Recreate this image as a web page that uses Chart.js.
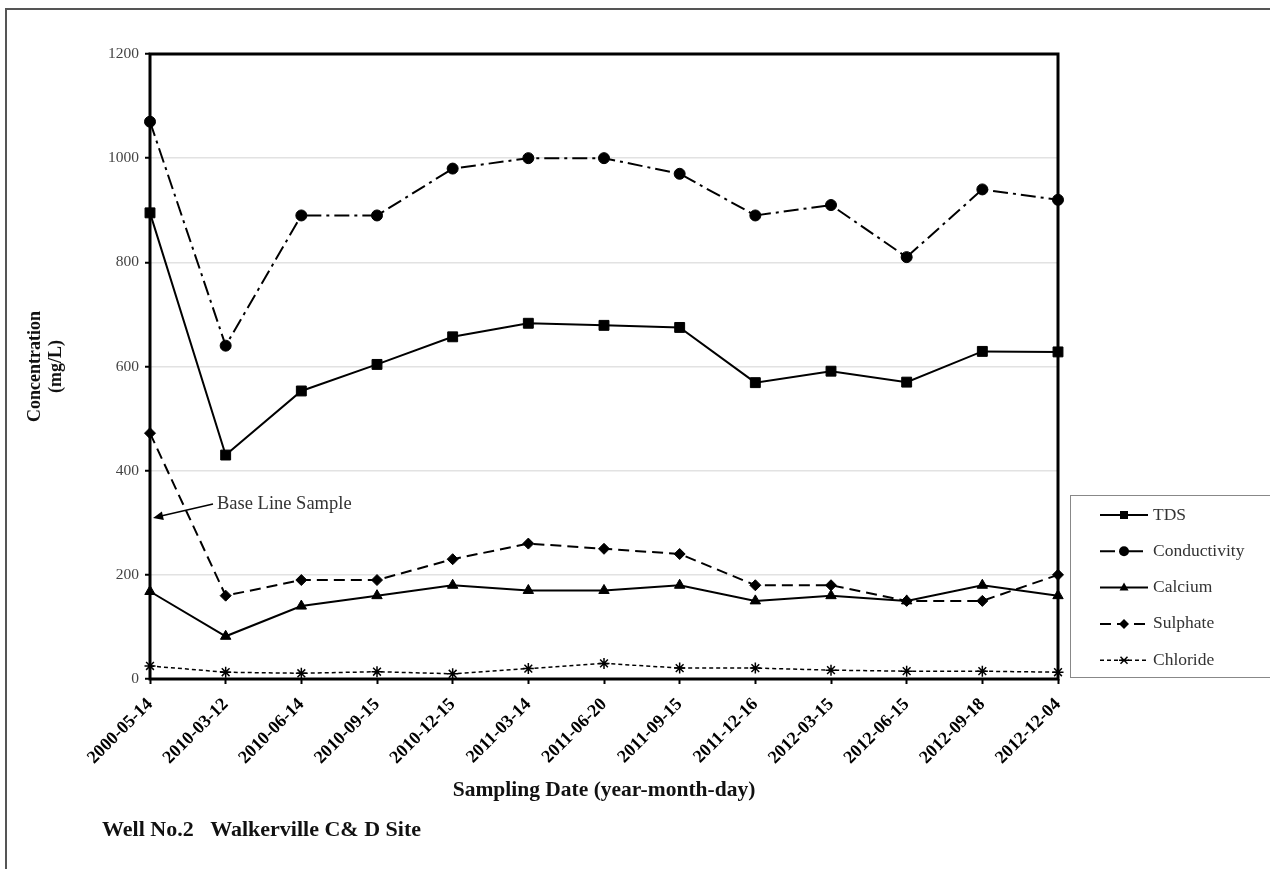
<!DOCTYPE html>
<html>
<head>
<meta charset="utf-8">
<script src="https://cdn.jsdelivr.net/npm/chart.js@4.4.1/dist/chart.umd.min.js"></script>
<style>
  html, body { margin: 0; padding: 0; background: #fff; }
  #wrap { width: 1270px; height: 869px; position: relative; }
</style>
</head>
<body>
<div id="wrap"><canvas id="wellChart"></canvas></div>
<script>
// sampling dates (x categories)
const samplingDates = ['2000-05-14', '2010-03-12', '2010-06-14', '2010-09-15', '2010-12-15', '2011-03-14',
    '2011-06-20', '2011-09-15', '2011-12-16', '2012-03-15', '2012-06-15', '2012-09-18', '2012-12-04'];

// concentrations (mg/L)
const tds          = [895, 430, 553, 604, 657, 683, 679, 675, 569, 591, 570, 629, 628];
const conductivity = [1070, 640, 890, 890, 980, 1000, 1000, 970, 890, 910, 810, 940, 920];
const calcium      = [168, 82, 140, 160, 180, 170, 170, 180, 150, 160, 150, 180, 160];
const sulphate     = [472, 160, 190, 190, 230, 260, 250, 240, 180, 180, 150, 150, 200];
const chloride     = [25, 13, 11, 14, 10, 20, 30, 21, 21, 17, 15, 15, 13];

const yTicks = [0, 200, 400, 600, 800, 1000, 1200];

const serif = "'Liberation Serif', 'Times New Roman', serif";

function makeSeries(label, data, style, radius, dash, width) {
    return {
        label: label,
        data: data,
        borderColor: '#000',
        backgroundColor: '#000',
        pointBackgroundColor: '#000',
        pointBorderColor: '#000',
        pointStyle: style,
        pointRadius: radius,
        pointBorderWidth: style === 'star' ? 1.5 : 1,
        borderWidth: width,
        borderDash: dash,
        tension: 0,
        fill: false
    };
}

const datasets = [
    makeSeries('TDS', tds, 'rect', 7, [], 2),
    makeSeries('Conductivity', conductivity, 'circle', 5.5, [15, 5, 3, 5], 2),
    makeSeries('Calcium', calcium, 'triangle', 6, [], 2),
    makeSeries('Sulphate', sulphate, 'rectRot', 5.5, [11, 6], 2),
    makeSeries('Chloride', chloride, 'star', 5.5, [4, 3], 1.5)
];

// marker drawing for the custom legend
function drawMarker(ctx, style, x, y, r) {
    ctx.save();
    ctx.fillStyle = '#000';
    ctx.strokeStyle = '#000';
    ctx.setLineDash([]);
    ctx.beginPath();
    if (style === 'rect') {
        ctx.fillRect(x - r * 0.8, y - r * 0.8, r * 1.6, r * 1.6);
    } else if (style === 'circle') {
        ctx.arc(x, y, r, 0, Math.PI * 2);
        ctx.fill();
    } else if (style === 'triangle') {
        ctx.moveTo(x, y - r);
        ctx.lineTo(x + r * 0.9, y + r * 0.6);
        ctx.lineTo(x - r * 0.9, y + r * 0.6);
        ctx.closePath();
        ctx.fill();
    } else if (style === 'rectRot') {
        ctx.moveTo(x, y - r);
        ctx.lineTo(x + r, y);
        ctx.lineTo(x, y + r);
        ctx.lineTo(x - r, y);
        ctx.closePath();
        ctx.fill();
    } else if (style === 'star') {
        ctx.lineWidth = 1.5;
        ctx.moveTo(x - r, y); ctx.lineTo(x + r, y);
        ctx.moveTo(x - r * 0.7, y - r * 0.7); ctx.lineTo(x + r * 0.7, y + r * 0.7);
        ctx.moveTo(x - r * 0.7, y + r * 0.7); ctx.lineTo(x + r * 0.7, y - r * 0.7);
        ctx.stroke();
    }
    ctx.restore();
}

const framePlugin = {
    id: 'framePlugin',
    beforeDatasetsDraw(chart) {
        const { ctx, chartArea } = chart;
        ctx.save();
        ctx.strokeStyle = '#000';
        ctx.lineWidth = 3;
        ctx.strokeRect(chartArea.left, chartArea.top, chartArea.right - chartArea.left, chartArea.bottom - chartArea.top);
        ctx.restore();
    },
    afterDraw(chart) {
        const { ctx, scales } = chart;
        ctx.save();

        // outer figure border (top and left edge)
        ctx.strokeStyle = '#555';
        ctx.lineWidth = 2;
        ctx.beginPath();
        ctx.moveTo(6, 869);
        ctx.lineTo(6, 9);
        ctx.lineTo(1270, 9);
        ctx.stroke();

        // base line sample note
        const tipX = scales.x.getPixelForValue(0) + 3;
        const tipY = scales.y.getPixelForValue(309);
        const tailX = tipX + 60;
        const tailY = scales.y.getPixelForValue(336);
        ctx.strokeStyle = '#000';
        ctx.fillStyle = '#000';
        ctx.lineWidth = 1.5;
        ctx.beginPath();
        ctx.moveTo(tailX, tailY);
        ctx.lineTo(tipX + 8, tipY - 2);
        ctx.stroke();
        const ang = Math.atan2(tipY - tailY, tipX - tailX);
        ctx.beginPath();
        ctx.moveTo(tipX, tipY);
        ctx.lineTo(tipX - 11 * Math.cos(ang - 0.4), tipY - 11 * Math.sin(ang - 0.4));
        ctx.lineTo(tipX - 11 * Math.cos(ang + 0.4), tipY - 11 * Math.sin(ang + 0.4));
        ctx.closePath();
        ctx.fill();
        ctx.fillStyle = '#333';
        ctx.font = '18.5px ' + serif;
        ctx.textAlign = 'left';
        ctx.textBaseline = 'middle';
        ctx.fillText('Base Line Sample', tailX + 4, tailY);

        // legend box
        ctx.strokeStyle = '#888';
        ctx.lineWidth = 1;
        ctx.strokeRect(1070.5, 495.5, 210, 182);
        chart.data.datasets.forEach(function (ds, i) {
            const y = 515 + i * 36.3;
            ctx.strokeStyle = '#000';
            ctx.lineWidth = ds.borderWidth;
            ctx.setLineDash(ds.borderDash);
            ctx.beginPath();
            ctx.moveTo(1100, y);
            ctx.lineTo(1148, y);
            ctx.stroke();
            ctx.setLineDash([]);
            drawMarker(ctx, ds.pointStyle, 1124, y, 5);
            ctx.fillStyle = '#333';
            ctx.font = '17.5px ' + serif;
            ctx.textAlign = 'left';
            ctx.textBaseline = 'middle';
            ctx.fillText(ds.label, 1153, y);
        });

        // site caption
        ctx.fillStyle = '#111';
        ctx.font = 'bold 22px ' + serif;
        ctx.textBaseline = 'middle';
        ctx.fillText('Well No.2   Walkerville C& D Site', 102, 830);
        ctx.restore();
    }
};

const ctxWell = document.getElementById('wellChart').getContext('2d');
const wellChart = new Chart(ctxWell, {
    type: 'line',
    data: {
        labels: samplingDates,
        datasets: datasets
    },
    options: {
        responsive: true,
        maintainAspectRatio: false,
        animation: false,
        layout: {
            padding: { left: 6, top: 54, right: 212, bottom: 66 }
        },
        plugins: {
            legend: { display: false },
            tooltip: { enabled: false }
        },
        scales: {
            x: {
                offset: false,
                border: { display: false },
                grid: {
                    drawOnChartArea: false,
                    drawTicks: true,
                    tickLength: 5,
                    tickColor: '#000',
                    tickWidth: 2
                },
                ticks: {
                    autoSkip: false,
                    maxRotation: 45,
                    minRotation: 45,
                    padding: 10,
                    labelOffset: 0,
                    color: '#000',
                    font: { family: serif, size: 18, weight: 'bold' }
                },
                title: {
                    display: true,
                    text: 'Sampling Date (year-month-day)',
                    color: '#111',
                    padding: { top: 4, bottom: 0 },
                    font: { family: serif, size: 21.5, weight: 'bold' }
                },
                afterFit(scale) { scale.height = 124; }
            },
            y: {
                min: 0,
                max: 1200,
                border: { display: false },
                afterBuildTicks(scale) {
                    scale.ticks = yTicks.map(function (v) { return { value: v }; });
                },
                grid: {
                    color: '#e2e2e2',
                    lineWidth: 1.5,
                    drawTicks: true,
                    tickLength: 5,
                    tickColor: '#000',
                    tickWidth: 2
                },
                ticks: {
                    padding: 6,
                    color: '#444',
                    font: { family: serif, size: 15.5 },
                    callback: function (value) { return String(value); }
                },
                title: {
                    display: true,
                    text: ['Concentration', '(mg/L)'],
                    color: '#111',
                    padding: { top: 19, bottom: 0 },
                    font: { family: serif, size: 18, weight: 'bold', lineHeight: 1.15 }
                },
                afterFit(scale) { scale.width = 144; }
            }
        }
    },
    plugins: [framePlugin]
});
</script>
</body>
</html>
